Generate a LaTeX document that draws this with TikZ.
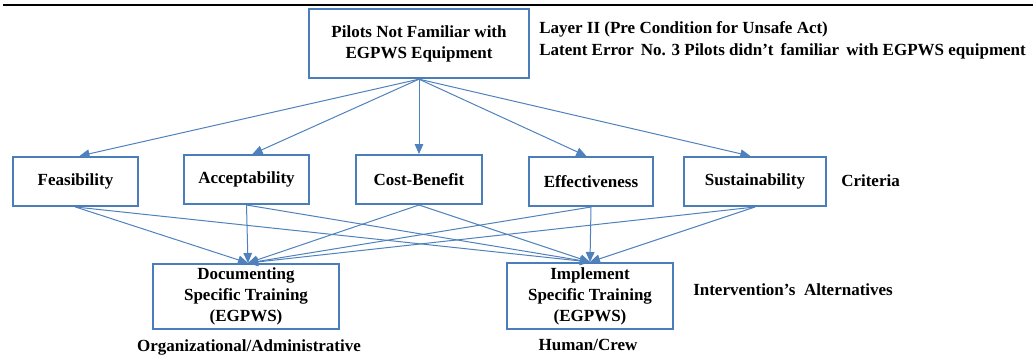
\documentclass[tikz,border=0pt]{standalone}
\usepackage{fontspec}
\setmainfont{Liberation Serif}
\usetikzlibrary{arrows.meta,shadows}
\definecolor{linkblue}{RGB}{79,129,189}
\definecolor{boxblue}{RGB}{74,126,187}
\tikzset{
  px/.style={x=0.75pt,y=-0.75pt},
  box/.style={draw=boxblue, line width=1.5pt, fill=white, align=center,
    inner sep=0pt, font=\bfseries\fontsize{12.75}{15.75}\selectfont,
    drop shadow={shadow xshift=0.8pt, shadow yshift=-0.8pt, opacity=0.25}},
  note/.style={font=\bfseries\fontsize{12.75}{15.75}\selectfont, inner sep=0pt},
  link/.style={draw=linkblue, line width=0.75pt,
    -{Triangle[length=7.5pt,width=6.5pt]}},
}
\begin{document}
\begin{tikzpicture}[px]
\useasboundingbox (0,0) rectangle (1033,358);
% heading rule
\draw[line width=1.6pt] (3,5) -- (1033,5);

% problem
\node[box, minimum width=165pt, minimum height=52pt] (top) at (419,43.5)
  {Pilots Not Familiar with\\EGPWS Equipment};
\node[note, anchor=west] (layer) at (539,29) {Layer II (Pre Condition for Unsafe Act)};
\node[note, anchor=west] (latent) at (539,51)
  {Latent Error\ \,No. 3 Pilots didn’t\,\ familiar\,\ with EGPWS equipment};

% criteria
\node[box, minimum width=93.75pt, minimum height=36.75pt] (fea) at (75.5,181.5) {Feasibility};
\node[box, minimum width=93.75pt, minimum height=36.75pt] (acc) at (246.5,179.5) {Acceptability};
\node[box, minimum width=94.5pt, minimum height=36.75pt] (cost) at (419,179.5) {Cost-Benefit};
\node[box, minimum width=93pt, minimum height=36.75pt] (eff) at (591,181.5) {Effectiveness};
\node[box, minimum width=106.5pt, minimum height=36.75pt] (sus) at (755,181.5) {Sustainability};
\node[note, anchor=west] (crit) at (841,181) {Criteria};

% alternatives
\node[box, minimum width=139.5pt, minimum height=48.75pt] (doc) at (246,296.5)
  {Documenting\\Specific Training\\(EGPWS)};
\node[box, minimum width=124.5pt, minimum height=49.5pt] (imp) at (590,296)
  {Implement\\Specific Training\\(EGPWS)};
\node[note, anchor=west] (alt) at (693,290) {Intervention’s\ \ Alternatives};
\node[note] (org) at (249,347) {Organizational/Administrative};
\node[note] (hum) at (588,345) {Human/Crew};

% problem -> criteria
\draw[link] (top.south) -- ([xshift=3pt]fea.north);
\draw[link] (top.south) -- ([xshift=4.5pt]acc.north);
\draw[link] (top.south) -- (cost.north);
\draw[link] (top.south) -- ([xshift=-3.5pt]eff.north);
\draw[link] (top.south) -- ([xshift=-3.5pt]sus.north);

% criteria -> alternatives
\foreach \c in {fea,acc,cost,eff,sus}{
  \draw[link] (\c.south) -- ([xshift=1.5pt]doc.north);
  \draw[link] (\c.south) -- (imp.north);
}
\end{tikzpicture}
\end{document}
